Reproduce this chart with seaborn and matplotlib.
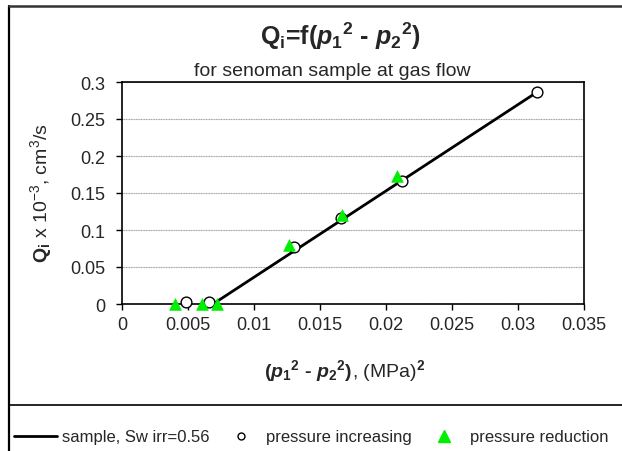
import matplotlib
matplotlib.use("Agg")
import matplotlib.pyplot as plt
import seaborn as sns
import pandas as pd
from matplotlib.lines import Line2D

# data
line_x = [0.0069, 0.0315]
line_y = [0.0, 0.2870]
inc_x = [0.00485, 0.00661, 0.01303, 0.01661, 0.02119, 0.03144]
inc_y = [0.0023, 0.0032, 0.0774, 0.1158, 0.1658, 0.2869]
red_x = [0.00399, 0.00606, 0.00722, 0.01267, 0.01667, 0.02085]
red_y = [0.0, 0.0, 0.0, 0.0797, 0.1207, 0.1730]
x_ticks = [0, 0.005, 0.01, 0.015, 0.02, 0.025, 0.03, 0.035]
x_labels = ["0", "0.005", "0.01", "0.015", "0.02", "0.025", "0.03", "0.035"]
y_ticks = [0, 0.05, 0.1, 0.15, 0.2, 0.25, 0.3]
y_labels = ["0", "0.05", "0.1", "0.15", "0.2", "0.25", "0.3"]
legend_labels = ["sample, Sw irr=0.56", "pressure increasing", "pressure reduction"]

sns.set_theme(style="white")
plt.rcParams['font.family'] = ['Liberation Sans', 'DejaVu Sans']
plt.rcParams['mathtext.fontset'] = 'custom'
plt.rcParams['mathtext.rm'] = 'Liberation Sans'
plt.rcParams['mathtext.it'] = 'Liberation Sans:italic:bold'
plt.rcParams['mathtext.bf'] = 'Liberation Sans:bold'

fig = plt.figure(figsize=(6.22, 4.52), dpi=100)
W, H = 622, 452
ax = fig.add_axes([122 / W, 1 - 305 / H, (584 - 122) / W, (305 - 83) / H])

df_line = pd.DataFrame({"x": line_x, "y": line_y})
df_inc = pd.DataFrame({"x": inc_x, "y": inc_y})
df_red = pd.DataFrame({"x": red_x, "y": red_y})

sns.lineplot(data=df_line, x="x", y="y", ax=ax, color="black", lw=2.0, zorder=3)
sns.scatterplot(data=df_inc, x="x", y="y", ax=ax, marker="o", s=60,
                facecolor="white", edgecolor="black", linewidth=1.0, zorder=4)
sns.scatterplot(data=df_red, x="x", y="y", ax=ax, marker="^", s=70,
                color="#00ee00", edgecolor="#00ee00", linewidth=0.5, zorder=5)
for c in ax.collections:
    c.set_clip_on(False)

ax.set_xlim(0, 0.035)
ax.set_ylim(0, 0.3)
ax.set_xticks(x_ticks)
ax.set_xticklabels(x_labels)
ax.set_yticks(y_ticks)
ax.set_yticklabels(y_labels)
ax.tick_params(axis="both", labelsize=13, length=4, width=1, direction="out",
               color="black", bottom=True, left=True)
ax.tick_params(axis="x", pad=5)
ax.tick_params(axis="y", pad=8)
for s in ax.spines.values():
    s.set_color("black")
    s.set_linewidth(1.2)
ax.grid(axis="y", color="#a0a0a0", lw=0.8, ls=(0, (1, 0.5)))
ax.set_axisbelow(True)
ax.set_xlabel("")
ax.set_ylabel("")

# titles and labels
fig.text(340 / W, 1 - 45 / H,
         r'Q$_\mathbf{i}$=f($\mathit{p}_\mathbf{1}{}^\mathbf{2}$ - $\mathit{p}_\mathbf{2}{}^\mathbf{2}$)',
         ha="center", va="baseline", fontsize=18, fontweight="bold")
fig.text(332 / W, 1 - 76 / H, "for senoman sample at gas flow",
         ha="center", va="baseline", fontsize=14)
fig.text(352 / W, 1 - 377 / H,
         r'($\mathit{p}_\mathbf{1}{}^\mathbf{2}$ - $\mathit{p}_\mathbf{2}{}^\mathbf{2}$)',
         ha="right", va="baseline", fontsize=14, fontweight="bold")
fig.text(352 / W, 1 - 377 / H, r', (MPa)$^\mathbf{2}$',
         ha="left", va="baseline", fontsize=14)
fig.text(41 / W, 1 - 193 / H,
         r'$\mathbf{Q}_\mathbf{i}$ x 10$^{-3}$, cm$^{3}$/s',
         ha="center", va="center", rotation=90, fontsize=14)

# outer frame and legend box
fig.add_artist(Line2D([9 / W, 9 / W], [0, 1 - 7 / H], color="black", lw=1.6,
                      transform=fig.transFigure))
fig.add_artist(Line2D([9 / W, 1], [1 - 7 / H, 1 - 7 / H], color="#333333", lw=1.8,
                      transform=fig.transFigure))
fig.add_artist(Line2D([9 / W, 1], [1 - 406 / H, 1 - 406 / H], color="black", lw=1.2,
                      transform=fig.transFigure))

# legend
handles = [
    Line2D([], [], color="black", lw=2.0),
    Line2D([], [], color="black", marker="o", markerfacecolor="white",
           markeredgecolor="black", markersize=5, lw=0),
    Line2D([], [], color="#00ee00", marker="^", markersize=8, lw=0),
]
fig.legend(handles, legend_labels, loc="center left", bbox_to_anchor=(14 / W, 1 - 438 / H),
           ncol=3, frameon=False, fontsize=12.0, handlelength=2.6, handletextpad=0.25,
           columnspacing=0.6, borderaxespad=0, borderpad=0)

fig.savefig("out.png", dpi=100)
